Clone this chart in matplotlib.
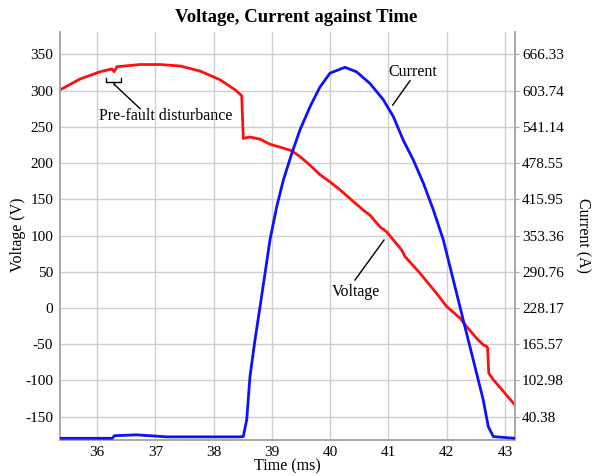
import matplotlib
matplotlib.use("Agg")
import matplotlib.pyplot as plt

# ---------------- data ----------------
time_v = [35.365, 35.708, 36.051, 36.257, 36.292, 36.343, 36.738, 37.081, 37.424,
          37.767, 38.110, 38.370, 38.482, 38.509, 38.621, 38.796, 38.967, 39.139,
          39.340, 39.482, 39.654, 39.825, 39.997, 40.168, 40.340, 40.568, 40.683,
          40.854, 40.969, 41.226, 41.283, 41.540, 41.827, 41.998, 42.226, 42.312,
          42.513, 42.626, 42.684, 42.700, 42.720, 42.798, 42.969, 43.170]
voltage = [301, 316, 326, 330, 326, 333, 336, 336, 334,
           327, 315, 301, 293, 234, 236, 233, 226, 222,
           217, 209, 197, 184, 174, 163, 151, 135, 128,
           112, 105, 80, 71, 48, 20, 2, -14, -23,
           -42, -51, -53, -55, -90, -99, -115, -134]

time_i = [35.365, 36.26, 36.30, 36.68, 37.20, 38.45, 38.509, 38.568, 38.624, 38.710,
          38.796, 38.882, 38.967, 39.082, 39.196, 39.340, 39.482, 39.654, 39.825,
          39.997, 40.254, 40.455, 40.683, 40.911, 41.082, 41.254, 41.425, 41.597,
          41.768, 41.940, 42.111, 42.283, 42.455, 42.626, 42.712, 42.798, 43.170]
current = [3, 3, 7.5, 9, 5.5, 5.5, 6, 35, 110, 173,
           230, 288, 346, 403, 449, 495, 536, 576, 610,
           634, 644, 636, 616, 588, 559, 518, 484, 444,
           398, 346, 277, 207, 138, 69, 23, 6, 3]

x_ticks = [36, 37, 38, 39, 40, 41, 42, 43]
v_ticks = [-150, -100, -50, 0, 50, 100, 150, 200, 250, 300, 350]
i_tick_labels = ["40.38", "102.98", "165.57", "228.17", "290.76", "353.36",
                 "415.95", "478.55", "541.14", "603.74", "666.33"]

# ---------------- figure ----------------
plt.rcParams['font.family'] = ['Liberation Serif', 'DejaVu Serif']
plt.rcParams['axes.unicode_minus'] = False
fig = plt.figure(figsize=(5.93, 4.76), dpi=100)
ax = fig.add_axes([60/593, 1-440/476, (515-60)/593, (440-32)/476])
ax2 = ax.twinx()

x_lim = (35.365, 43.17)
v_lim = (-182.2, 380.9)
i_vals = [float(s) for s in i_tick_labels]
slope = (i_vals[-1] - i_vals[0]) / (v_ticks[-1] - v_ticks[0])
i_lim = (i_vals[0] + (v_lim[0] - v_ticks[0]) * slope,
         i_vals[0] + (v_lim[1] - v_ticks[0]) * slope)

grid_c = "#cfcfcf"
spine_c = "#a8a8a8"

ax.set_xlim(*x_lim)
ax.set_ylim(*v_lim)
ax2.set_ylim(*i_lim)
ax.set_xticks(x_ticks)
ax.set_yticks(v_ticks)
ax2.set_yticks(i_vals)
ax2.set_yticklabels(i_tick_labels)

ax.grid(True, color=grid_c, lw=1.0)
ax.set_axisbelow(True)
for a in (ax, ax2):
    a.spines['top'].set_visible(False)
    for s in ('left', 'right', 'bottom'):
        a.spines[s].set_color(spine_c)
        a.spines[s].set_linewidth(1.2)
    a.tick_params(length=3, color=spine_c, labelsize=11, pad=2)
ax.tick_params(axis='y', length=0, pad=5)
ax.tick_params(axis='x', length=0, pad=4)
ax2.tick_params(axis='y', length=3, pad=2)

ax.plot(time_v, voltage, color="#ff1010", lw=2.0, zorder=3)
ax2.plot(time_i, current, color="#1010ff", lw=2.0, zorder=3)

fig.text(0.5, 1 - 18/476, "Voltage, Current against Time", fontsize=13.5,
         fontweight='bold', ha='center', va='center')
ax.set_xlabel("Time (ms)", fontsize=11.5)
ax.set_ylabel("Voltage (V)", fontsize=11.5)
ax2.set_ylabel("Current (A)", fontsize=11.5, rotation=270)
ax.xaxis.set_label_coords((287 - 60) / 455, (440 - 466) / 408)
ax.yaxis.set_label_coords((18 - 60) / 455, (440 - 235) / 408)
ax2.yaxis.set_label_coords((583 - 60) / 455, (440 - 235) / 408)
ax.xaxis.label.set_va('center')
ax.yaxis.label.set_va('center')
ax2.yaxis.label.set_va('center')

# ---------------- annotations ----------------
ann_kw = dict(color="black", lw=1.0)
# pre-fault bracket
br_x = [36.16, 36.16, 36.41, 36.41]
br_y = [317, 312, 312, 317]
ax.plot(br_x, br_y, **ann_kw, zorder=4)
ax.plot([36.29, 36.29], [312, 309], **ann_kw, zorder=4)
ax.plot([36.29, 36.74], [309, 275], **ann_kw, zorder=4)
ax.text(37.17, 265, "Pre-fault disturbance", fontsize=11.5, ha='center', va='center')

# current label
ax.plot([41.369, 41.072], [313.7, 280], **ann_kw, zorder=4)
ax.text(41.42, 326, "Current", fontsize=11.5, ha='center', va='center')

# voltage label
ax.plot([40.425, 40.923], [38.6, 93.8], **ann_kw, zorder=4)
ax.text(40.434, 22.5, "Voltage", fontsize=11.5, ha='center', va='center')

fig.savefig("out.png", dpi=100)
